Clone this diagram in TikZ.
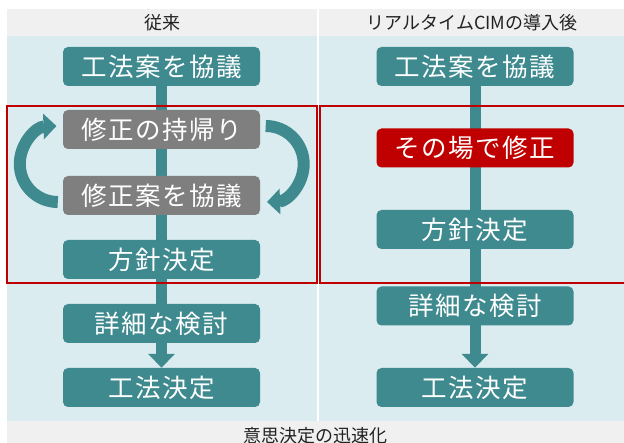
\documentclass[tikz,border=0pt]{standalone}
\usepackage{fontspec}
\setmainfont{Noto Sans CJK JP}
\usetikzlibrary{arrows.meta,backgrounds,calc}
\definecolor{tealbox}{HTML}{3E8A8F}
\definecolor{graybox}{HTML}{7F7F7F}
\definecolor{redbox}{HTML}{C00000}
\definecolor{panelbg}{HTML}{DAECEF}
\definecolor{headbg}{HTML}{F0F0F0}
\definecolor{headtext}{HTML}{222222}
\newcommand{\boxfont}{\fontsize{25.5pt}{29pt}\selectfont\addfontfeatures{LetterSpace=6}}
\newcommand{\headfont}{\fontsize{18pt}{22pt}\selectfont}
\tikzset{
  stepbox/.style={rounded corners=5pt, minimum width=197pt, minimum height=39pt,
    inner sep=0pt, text=white, font=\boxfont, fill=tealbox},
  graystep/.style={stepbox, fill=graybox},
  redstep/.style={stepbox, fill=redbox},
  headlabel/.style={text=headtext, font=\headfont, inner sep=0pt},
  trunk/.style={draw=tealbox, line width=11pt, -{Triangle[width=26pt,length=14pt]}},
  looparrow/.style={draw=tealbox, line width=12pt, -{Triangle[width=25pt,length=13pt]}},
  frame/.style={draw=redbox, line width=1.4pt}
}
\begin{document}
\begin{tikzpicture}[x=1pt,y=-1pt]
\useasboundingbox (0,0) rectangle (624,443);
\clip (0,0) rectangle (624,443);

% header labels
\node[headlabel] (h1) at (162,22.5) {従来};
\node[headlabel] (h2) at (472,22.5) {リアルタイムCIMの導入後};
\node[headlabel] (foot) at (315,436) {意思決定の迅速化};

% left column
\node[stepbox]  (t1) at (161.5,66.5)  {工法案を協議};
\node[graystep] (g1) at (161.5,129.5) {修正の持帰り};
\node[graystep] (g2) at (161.5,195.5) {修正案を協議};
\node[stepbox]  (p1) at (161.5,259.5) {方針決定};
\node[stepbox]  (d1) at (161.5,323.5) {詳細な検討};
\node[stepbox]  (f1) at (161.5,387.5) {工法決定};

% right column
\node[stepbox] (t2) at (475,66.5)  {工法案を協議};
\node[redstep] (r2) at (475,148)   {その場で修正};
\node[stepbox] (p2) at (475,229.5) {方針決定};
\node[stepbox] (d2) at (475,306)   {詳細な検討};
\node[stepbox] (f2) at (475,387.5) {工法決定};

\begin{pgfonlayer}{background}
  % panels
  \fill[headbg] (7,9) rectangle (317,36);
  \fill[headbg] (319,9) rectangle (624,36);
  \fill[panelbg] (7,36) rectangle (317,421);
  \fill[panelbg] (319,36) rectangle (624,421);
  \fill[headbg] (7,421) rectangle (624,443);
  % trunks
  \draw[trunk] (t1.south) -- (f1.north);
  \draw[trunk] (t2.south) -- (f2.north);
\end{pgfonlayer}

% loop arrows
\draw[looparrow] ($(g2.west)+(-5,6.5)$) arc[start angle=90, end angle=268, radius=38];
\draw[looparrow] ($(g1.east)+(5.5,-3.5)$) arc[start angle=270, end angle=448, radius=38];

% red frames
\draw[frame] (7,106) rectangle (317,283);
\draw[frame] (320,106) rectangle (630,283);
\end{tikzpicture}
\end{document}
